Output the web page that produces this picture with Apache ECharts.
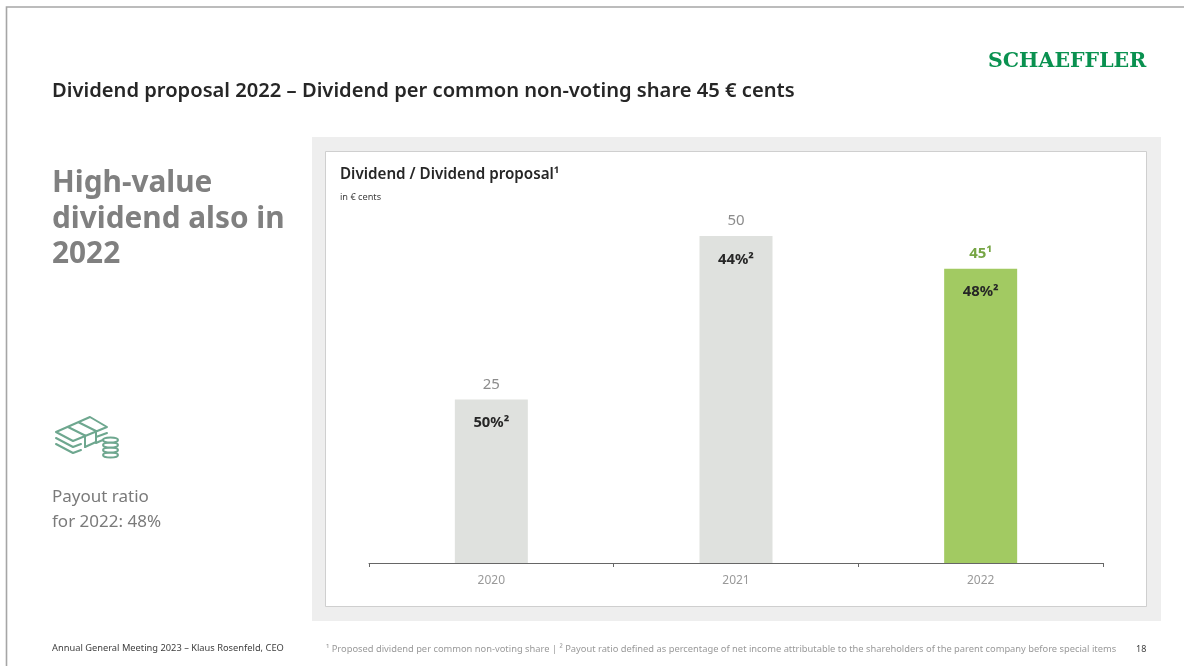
<!DOCTYPE html>
<html>
<head>
<meta charset="utf-8">
<title>Dividend proposal 2022</title>
<script src="https://cdn.jsdelivr.net/npm/echarts@6/dist/echarts.min.js"></script>
<style>
  html, body { margin: 0; padding: 0; background: #fff; }
  #chart { width: 1184px; height: 666px; }
</style>
</head>
<body>
<div id="chart"></div>
<script>
// Dividend per share and payout ratio by year
const years = ['2020', '2021', '2022'];
const dividendCents = [25, 50, 45];
const dividendLabels = ['25', '50', '45¹'];
const payoutLabels = ['50%²', '44%²', '48%²'];
const barColors = ['#dfe1de', '#dfe1de', '#a2ca62'];
const valueColors = ['#8c8c8c', '#8c8c8c', '#76a544'];

const FONT = '"Noto Sans", "Open Sans", sans-serif';
const ICON = '#6ea78f';

function text(x, y, content, size, weight, fill, family) {
  return {
    type: 'text', x, y, silent: true,
    style: { text: content, fontFamily: family || FONT, fontSize: size, fontWeight: weight, fill, verticalAlign: 'middle' }
  };
}
function line(points, closed) {
  return {
    type: closed ? 'polygon' : 'polyline', silent: true,
    shape: { points },
    style: { fill: closed ? '#fff' : null, stroke: ICON, lineWidth: 2, lineJoin: 'round', lineCap: 'round' }
  };
}
function coin(cx, cy) {
  return { type: 'ellipse', silent: true, shape: { cx, cy, rx: 7.5, ry: 2.6 },
    style: { fill: '#fff', stroke: ICON, lineWidth: 2 } };
}

const chart = echarts.init(document.getElementById('chart'), null, { renderer: 'canvas' });
chart.setOption({
  animation: false,
  backgroundColor: '#ffffff',
  grid: { left: 369, top: 236, width: 734, height: 327, containLabel: false },
  xAxis: {
    type: 'category',
    data: years,
    axisLine: { lineStyle: { color: '#666666', width: 1 } },
    axisTick: { show: true, length: 4, alignWithLabel: false, lineStyle: { color: '#666666' } },
    axisLabel: { color: '#999999', fontFamily: FONT, fontSize: 12, margin: 12 }
  },
  yAxis: { type: 'value', min: 0, max: 50, show: false },
  graphic: [
    // page frame, panel and card
    { type: 'polyline', silent: true, z: -10, shape: { points: [[6.5, 666], [6.5, 7], [1184, 7]] },
      style: { fill: null, stroke: '#a6a6a6', lineWidth: 1.6 } },
    { type: 'rect', silent: true, z: -10, shape: { x: 312, y: 137, width: 849, height: 484 }, style: { fill: '#eeeeee' } },
    { type: 'rect', silent: true, z: -9, shape: { x: 325.5, y: 151.5, width: 821, height: 455 }, style: { fill: '#ffffff', stroke: '#cfcfcf', lineWidth: 1 } },

    // headings and notes
    text(52, 91, 'Dividend proposal 2022 – Dividend per common non-voting share 45 € cents', 20.15, 600, '#262626'),
    text(988, 62, 'SCHAEFFLER', 20.5, 'bold', '#0a9150', '"DejaVu Serif", serif'),
    text(52, 184, 'High-value', 29.8, 700, '#808080'),
    text(52, 220, 'dividend also in', 29.8, 700, '#808080'),
    text(52, 255, '2022', 29.8, 700, '#808080'),
    text(52, 497, 'Payout ratio', 17, 400, '#7a7a7a'),
    text(52, 522, 'for 2022: 48%', 17, 400, '#7a7a7a'),
    text(340, 174.5, 'Dividend / Dividend proposal¹', 15.2, 600, '#262626'),
    text(340, 197, 'in € cents', 9.2, 400, '#404040'),
    text(52, 648, 'Annual General Meeting 2023 – Klaus Rosenfeld, CEO', 9.3, 400, '#404040'),
    text(326, 649, '¹ Proposed dividend per common non-voting share | ² Payout ratio defined as percentage of net income attributable to the shareholders of the parent company before special items', 9.33, 400, '#999999'),
    text(1136, 649, '18', 9, 400, '#404040'),

    // banknotes and coins pictogram
    line([[56, 444], [73, 453], [81, 450]]),
    line([[56, 438], [73, 447], [81, 444]]),
    line([[56, 432], [73, 441], [107, 427], [90, 417]], true),
    line([[68, 427], [85, 435.5]]),
    line([[79, 422.5], [96, 431]]),
    line([[85, 435.5], [85, 447]]),
    line([[96, 431], [96, 442]]),
    line([[96, 437], [107, 433]]),
    line([[96, 443], [105, 439]]),
    line([[85, 447], [96, 442]]),
    coin(110.5, 455), coin(110.5, 450), coin(110.5, 445), coin(110.5, 440)
  ],
  series: [
    {
      name: 'Dividend',
      type: 'bar',
      barWidth: 73,
      data: dividendCents.map((v, i) => ({
        value: v,
        itemStyle: { color: barColors[i] },
        label: {
          formatter: dividendLabels[i],
          color: valueColors[i],
          fontWeight: i === 2 ? 700 : 400
        }
      })),
      label: { show: true, position: 'top', distance: 7.5, fontFamily: FONT, fontSize: 15 }
    },
    {
      name: 'Payout ratio',
      type: 'bar',
      barWidth: 73,
      barGap: '-100%',
      itemStyle: { color: 'rgba(0,0,0,0)' },
      data: dividendCents.map((v, i) => ({
        value: v,
        label: { formatter: payoutLabels[i] }
      })),
      label: { show: true, position: 'insideTop', distance: 16, color: '#262626', fontFamily: FONT, fontSize: 14.8, fontWeight: 700 }
    }
  ]
});
</script>
</body>
</html>
